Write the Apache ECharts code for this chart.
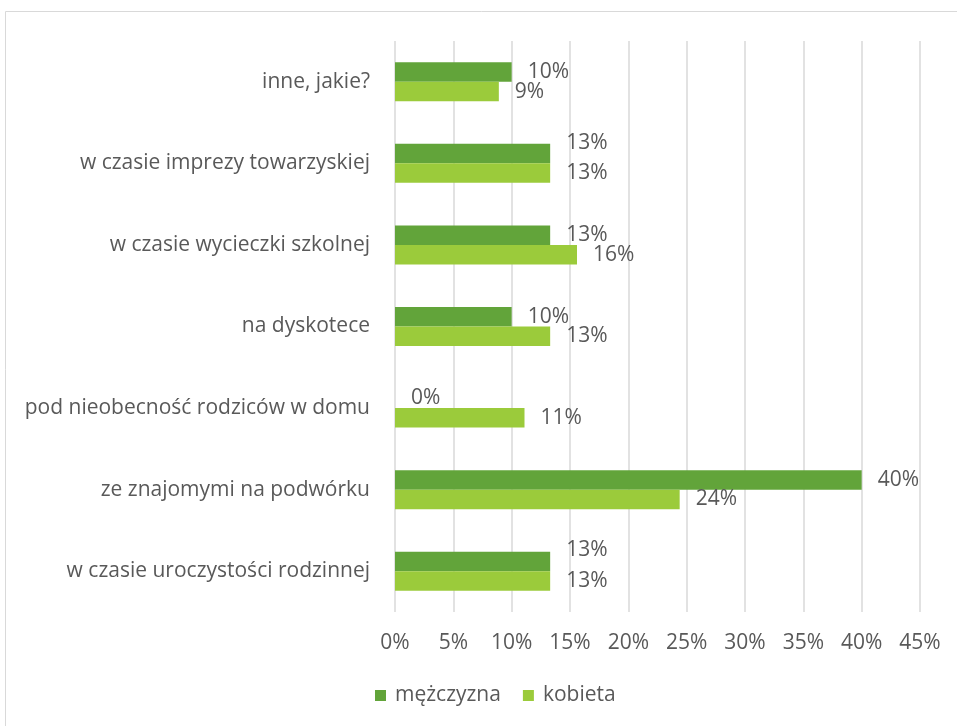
<!DOCTYPE html>
<html>
<head>
<meta charset="utf-8">
<script src="https://cdn.jsdelivr.net/npm/echarts@6/dist/echarts.min.js"></script>
<style>html,body{margin:0;padding:0;background:#fff}#c{width:957px;height:726px}</style>
</head>
<body>
<div id="c"></div>
<script>
const categories = ["w czasie uroczystości rodzinnej","ze znajomymi na podwórku","pod nieobecność rodziców w domu","na dyskotece","w czasie wycieczki szkolnej","w czasie imprezy towarzyskiej","inne, jakie?"];
const seriesNames = ["mężczyzna","kobieta"];
const mezczyzna = [13.3, 40.0, 0.0, 10.0, 13.3, 13.3, 10.0];
const kobieta = [13.3, 24.4, 11.1, 13.3, 15.6, 13.3, 8.9];
const xTicks = [0,5,10,15,20,25,30,35,40,45];

const chart = echarts.init(document.getElementById('c'), null, {renderer:'canvas'});
const font = "'Open Sans', sans-serif";
const txt = '#595959';
const fs = 21;
function lbl(){
  return {show:true, position:'right', distance:16, color:txt, fontFamily:font, fontSize:fs,
    formatter:p=>Math.round(p.value)+'%'};
}
chart.setOption({
  animation:false,
  graphic:[{type:'rect', shape:{x:5.5,y:11.5,width:1200,height:1200}, style:{fill:'none', stroke:'#d9d9d9', lineWidth:1}, silent:true}],
  grid:{left:395, right:37, top:41, bottom:114, containLabel:false},
  legend:{bottom:15, left:370, itemWidth:11, itemHeight:11, itemGap:22, icon:'rect',
    textStyle:{color:txt, fontFamily:font, fontSize:fs, padding:[0,0,0,4]}, data:seriesNames},
  xAxis:{type:'value', min:0, max:45, interval:5,
    axisLine:{show:false}, axisTick:{show:false},
    splitLine:{lineStyle:{color:'#d9d9d9', width:1.5}},
    axisLabel:{color:txt, fontFamily:font, fontSize:fs, margin:21,
      formatter:v=> xTicks.includes(v) ? v+'%' : ''}},
  yAxis:{type:'category', data:categories,
    axisLine:{show:false}, axisTick:{show:false},
    axisLabel:{color:txt, fontFamily:font, fontSize:fs, margin:25}},
  series:[
    {name:seriesNames[0], type:'bar', data:mezczyzna, barWidth:19.5, barGap:'0%',
      itemStyle:{color:'#62A43A'}, label:lbl(),
      labelLayout:p=> (mezczyzna[p.dataIndex]===kobieta[p.dataIndex]) ? {dy:-11} : {}},
    {name:seriesNames[1], type:'bar', data:kobieta, barWidth:19.5, barGap:'0%',
      itemStyle:{color:'#9BCB3B'}, label:lbl()}
  ]
});
</script>
</body>
</html>
